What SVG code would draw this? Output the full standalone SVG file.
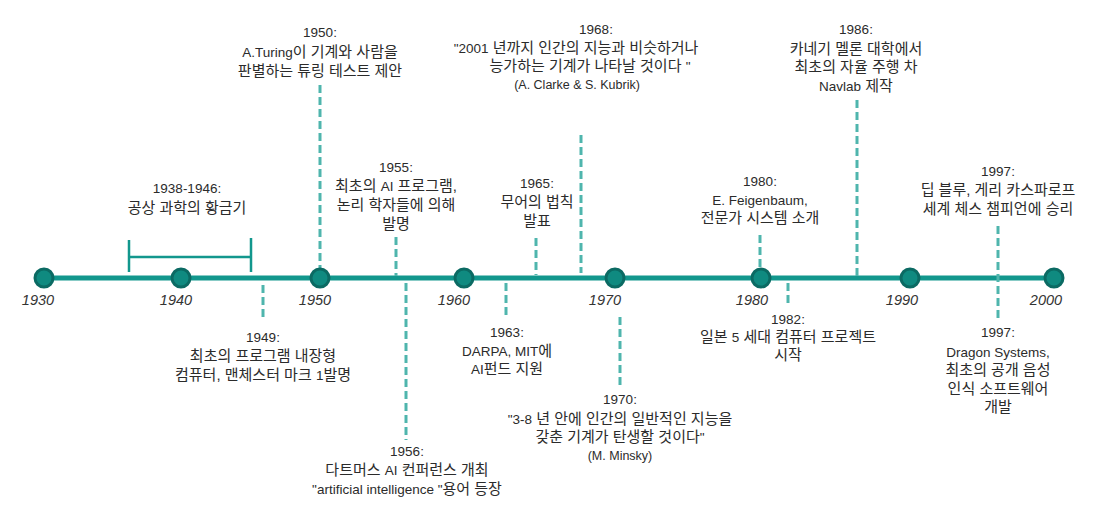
<svg xmlns="http://www.w3.org/2000/svg" width="1115" height="530" viewBox="0 0 1115 530">
<style>
.axis{stroke:#12978d;stroke-width:5;fill:none}
.dash{stroke:#4fb5ad;stroke-width:3;stroke-dasharray:8 4;fill:none}
.br{stroke:#12978d;stroke-width:2.5;fill:none}
.dot{fill:#0f8a80;stroke:#0b6a63;stroke-width:3}
.yr{font-family:"Liberation Sans","Noto Sans CJK KR",sans-serif;font-style:italic;font-size:14.5px;fill:#333;text-anchor:middle}
.t{font-family:"Liberation Sans","Noto Sans CJK KR",sans-serif;font-size:15px;fill:#2b2b2b;text-anchor:middle}
.l{font-size:13.5px}
.s{font-size:12.5px}
</style>
<rect width="1115" height="530" fill="#fff"/>
<g id="connectors">
<line class="axis" x1="44" y1="278" x2="1054" y2="278"/>
<path class="br" d="M129 240V272M251 238V272M129 257H251"/>
<line class="dash" x1="320" y1="85" x2="320" y2="270"/>
<line class="dash" x1="263" y1="285" x2="263" y2="320"/>
<line class="dash" x1="396" y1="237" x2="396" y2="276"/>
<line class="dash" x1="406" y1="283" x2="406" y2="440"/>
<line class="dash" x1="506" y1="283" x2="506" y2="317"/>
<line class="dash" x1="536" y1="238" x2="536" y2="275"/>
<line class="dash" x1="581" y1="135" x2="581" y2="273"/>
<line class="dash" x1="620" y1="317" x2="620" y2="385"/>
<line class="dash" x1="760" y1="235" x2="760" y2="270"/>
<line class="dash" x1="788" y1="283" x2="788" y2="306"/>
<line class="dash" x1="857" y1="100" x2="857" y2="276"/>
<line class="dash" x1="998" y1="226" x2="998" y2="318"/>
</g>
<g id="axis-dots">
<circle class="dot" cx="44" cy="278" r="9"/>
<circle class="dot" cx="181" cy="278" r="9"/>
<circle class="dot" cx="320" cy="278" r="9"/>
<circle class="dot" cx="464" cy="278" r="9"/>
<circle class="dot" cx="615" cy="278" r="9"/>
<circle class="dot" cx="761" cy="278" r="9"/>
<circle class="dot" cx="910" cy="278" r="9"/>
<circle class="dot" cx="1054" cy="278" r="9"/>
</g>
<g id="axis-labels">
<text class="yr" x="38" y="305">1930</text>
<text class="yr" x="176" y="305">1940</text>
<text class="yr" x="315" y="305">1950</text>
<text class="yr" x="454" y="305">1960</text>
<text class="yr" x="605" y="305">1970</text>
<text class="yr" x="752" y="305">1980</text>
<text class="yr" x="902" y="305">1990</text>
<text class="yr" x="1046" y="305">2000</text>
</g>
<g id="n1938">
<text class="t l" x="187" y="193">1938-1946:</text>
<text class="t" x="187" y="213">공상 과학의 황금기</text>
</g>
<g id="n1949">
<text class="t l" x="263" y="342">1949:</text>
<text class="t" x="263" y="361">최초의 프로그램 내장형</text>
<text class="t" x="263" y="380">컴퓨터, 맨체스터 마크 <tspan class="l">1</tspan>발명</text>
</g>
<g id="n1950">
<text class="t l" x="320" y="37">1950:</text>
<text class="t" x="320" y="57"><tspan class="l">A.Turing</tspan>이 기계와 사람을</text>
<text class="t" x="320" y="76">판별하는 튜링 테스트 제안</text>
</g>
<g id="n1955">
<text class="t l" x="396" y="172">1955:</text>
<text class="t" x="396" y="191">최초의 <tspan class="l">AI</tspan> 프로그램,</text>
<text class="t" x="396" y="210">논리 학자들에 의해</text>
<text class="t" x="396" y="229">발명</text>
</g>
<g id="n1956">
<text class="t l" x="407" y="456">1956:</text>
<text class="t" x="407" y="475">다트머스 <tspan class="l">AI</tspan> 컨퍼런스 개최</text>
<text class="t" x="407" y="494"><tspan class="l">"artificial intelligence "</tspan>용어 등장</text>
</g>
<g id="n1963">
<text class="t l" x="507" y="337">1963:</text>
<text class="t" x="507" y="356"><tspan class="l">DARPA, MIT</tspan>에</text>
<text class="t" x="507" y="374"><tspan class="l">AI</tspan>펀드 지원</text>
</g>
<g id="n1965">
<text class="t l" x="537" y="188">1965:</text>
<text class="t" x="537" y="207">무어의 법칙</text>
<text class="t" x="537" y="226">발표</text>
</g>
<g id="n1968">
<text class="t l" x="596" y="34">1968:</text>
<text class="t" x="576" y="53"><tspan class="l">"2001</tspan> 년까지 인간의 지능과 비슷하거나</text>
<text class="t" x="590" y="71">능가하는 기계가 나타날 것이다 <tspan class="l">"</tspan></text>
<text class="t s" x="577" y="89">(A. Clarke &amp; S. Kubrik)</text>
</g>
<g id="n1970">
<text class="t l" x="620" y="404">1970:</text>
<text class="t" x="620" y="424"><tspan class="l">"3-8</tspan> 년 안에  인간의 일반적인 지능을</text>
<text class="t" x="620" y="442">갖춘 기계가 탄생할 것이다<tspan class="l">"</tspan></text>
<text class="t s" x="620" y="460">(M. Minsky)</text>
</g>
<g id="n1980">
<text class="t l" x="760" y="186">1980:</text>
<text class="t l" x="760" y="205">E. Feigenbaum,</text>
<text class="t" x="760" y="223">전문가 시스템 소개</text>
</g>
<g id="n1982">
<text class="t l" x="788" y="324">1982:</text>
<text class="t" x="788" y="342">일본 <tspan class="l">5</tspan> 세대 컴퓨터 프로젝트</text>
<text class="t" x="788" y="360">시작</text>
</g>
<g id="n1986">
<text class="t l" x="856" y="34">1986:</text>
<text class="t" x="856" y="54">카네기 멜론 대학에서</text>
<text class="t" x="856" y="72">최초의 자율 주행 차</text>
<text class="t" x="856" y="91"><tspan class="l">Navlab</tspan>  제작</text>
</g>
<g id="n1997a">
<text class="t l" x="998" y="176">1997:</text>
<text class="t" x="998" y="195">딥 블루, 게리 카스파로프</text>
<text class="t" x="998" y="214">세계 체스 챔피언에 승리</text>
</g>
<g id="n1997b">
<text class="t l" x="998" y="337">1997:</text>
<text class="t l" x="998" y="357">Dragon Systems,</text>
<text class="t" x="998" y="375">최초의 공개 음성</text>
<text class="t" x="998" y="394">인식 소프트웨어</text>
<text class="t" x="998" y="412">개발</text>
</g>
</svg>
